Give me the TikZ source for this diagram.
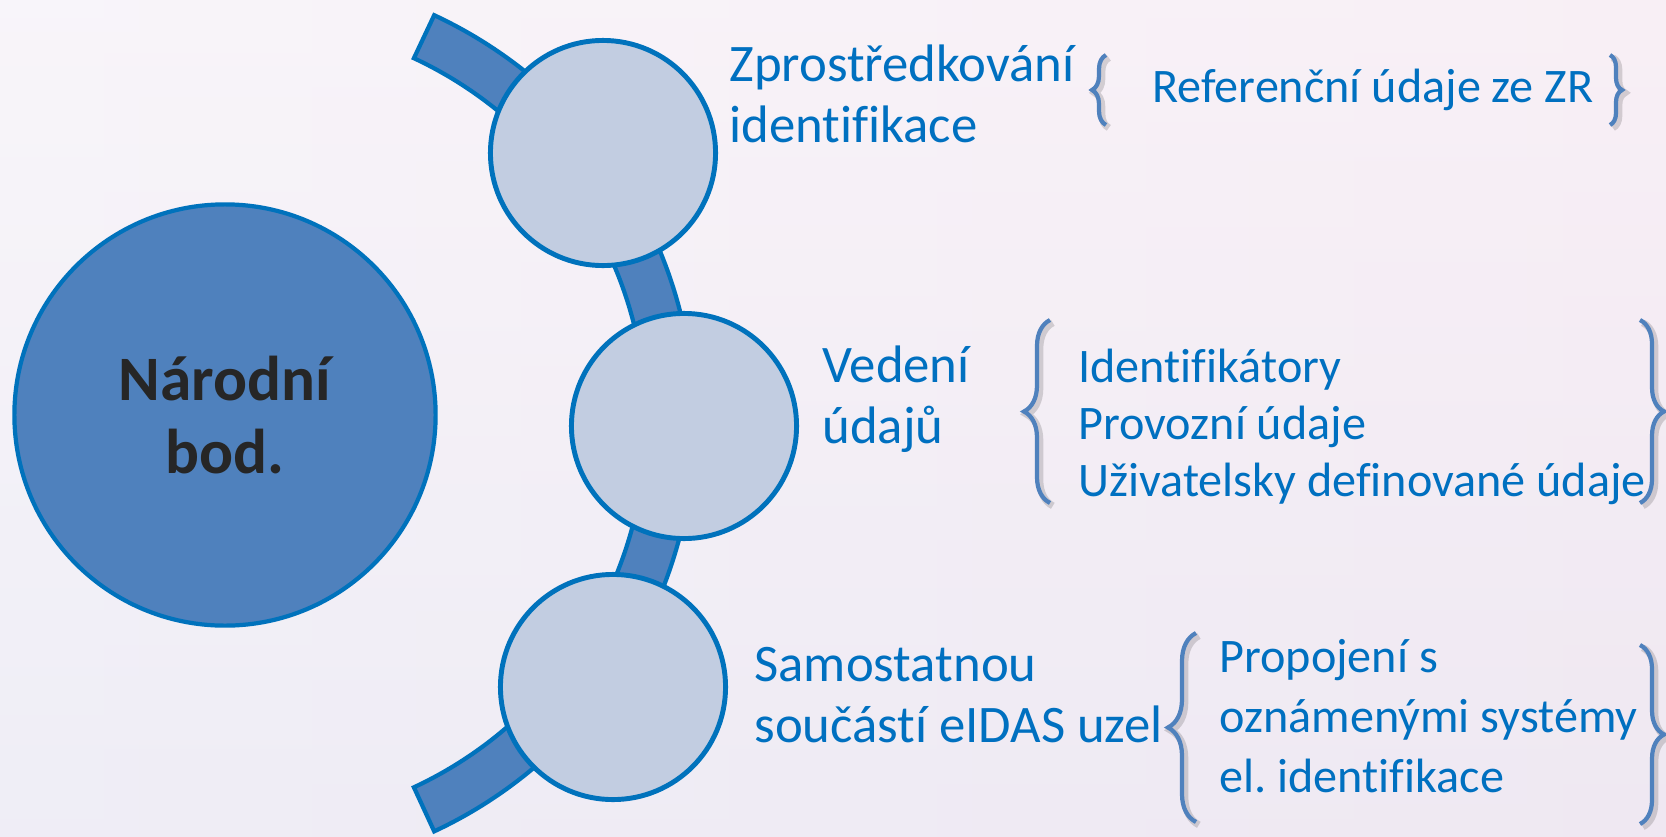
\documentclass[tikz,border=0pt]{standalone}
\usepackage{fontspec}
\setmainfont{Carlito}[Ligatures={NoCommon}]
\usetikzlibrary{decorations.pathreplacing}
\definecolor{bandblue}{HTML}{4F81BD}
\definecolor{rimblue}{HTML}{0072BC}
\definecolor{discfill}{HTML}{C2CDE1}
\definecolor{txtblue}{HTML}{0070C0}
\definecolor{bgleft}{HTML}{F6F1F8}
\definecolor{bgmid}{HTML}{DFE7F2}
\definecolor{bgright}{HTML}{F6E9F2}
\frenchspacing

\begin{document}
\begin{tikzpicture}[x=0.01cm, y=-0.01cm,
  disc/.style={circle, draw=rimblue, line width=1.4pt, fill=discfill, minimum size=2.25cm, inner sep=0pt},
  lbl/.style={anchor=base west, align=left, text=txtblue, font=\fontsize{15}{17.2}\selectfont},
  item/.style={anchor=base west, align=left, text=txtblue, font=\fontsize{13.7}{16.2}\selectfont},
  brc/.style={draw=bandblue, line width=1.2pt, decorate, decoration={brace, amplitude=#1},
    preaction={draw=black, opacity=.15, line width=2pt, transform canvas={shift={(0.8pt,-0.8pt)}}}}]

\useasboundingbox (0,0) rectangle (1666,836);
\shade[left color=bgleft, middle color=bgmid, right color=bgright] (0,0) rectangle (1666,836);
\shade[top color=white, bottom color=bgmid, opacity=.3] (0,0) rectangle (1666,836);

\draw[fill=bandblue, draw=rimblue, line width=1.2pt] (434.2,15.2) arc[start angle=65, end angle=-65, radius=4.5cm] -- (413.9,787.3) arc[start angle=-65, end angle=65, radius=4.02cm] -- cycle;

\node[circle, draw=rimblue, line width=1.2pt, fill=bandblue, minimum size=4.21cm, inner sep=0pt, align=center, text=black!85, font=\bfseries\fontsize{18}{20.5}\selectfont] (bod) at (225,415) {Národní\\bod.};

\node[disc] (d1) at (603,153) {};
\node[disc] (d2) at (684,426) {};
\node[disc] (d3) at (613,687) {};

\node[lbl] (l1) at (717,142) {Zprostředkování\\identifikace};
\node[lbl] (l2) at (810,443) {Vedení\\údajů};
\node[lbl] (l3) at (742,742) {Samostatnou\\součástí eIDAS uzel};

\node[item] (i1) at (1140,102) {Referenční údaje ze ZR};
\node[item] (i2) at (1066,496) {Identifikátory\\Provozní údaje\\Uživatelsky definované údaje};
\node[item, font=\fontsize{13.7}{17}\selectfont] (i3) at (1207,792) {Propojení s\\oznámenými systémy\\el. identifikace};

\draw[brc=0.14cm] (1106,125) -- (1106,55);
\draw[brc=0.12cm] (1610,55) -- (1610,125);
\draw[brc=0.26cm] (1050,503) -- (1050,320);
\draw[brc=0.24cm] (1640,320) -- (1640,503);
\draw[brc=0.28cm] (1196,822) -- (1196,633);
\draw[brc=0.24cm] (1640,645) -- (1640,824);

\end{tikzpicture}
\end{document}
